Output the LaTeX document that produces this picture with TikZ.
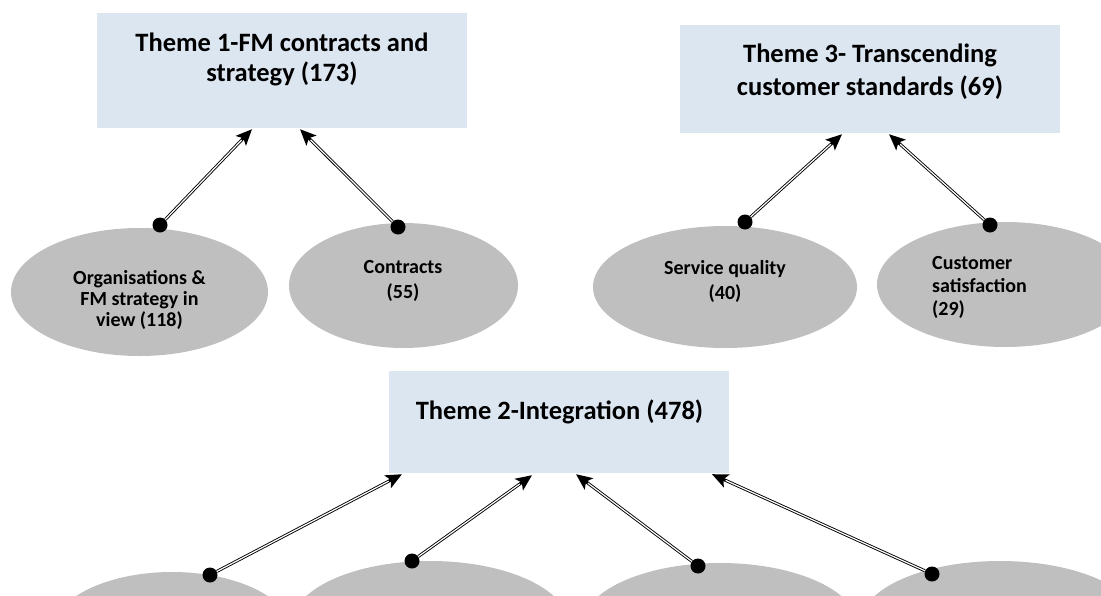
\documentclass[tikz,border=0pt]{standalone}
\usepackage{fontspec}
\setmainfont{Carlito}
\usetikzlibrary{arrows.meta,shapes.geometric}

\definecolor{themefill}{HTML}{DCE6F1}
\definecolor{subfill}{HTML}{BFBFBF}

\begin{document}
\begin{tikzpicture}[x=1pt,y=-1pt,
  theme/.style={rectangle, fill=themefill, draw=none, inner sep=0pt},
  sub/.style={ellipse, fill=subfill, draw=none, inner sep=0pt},
  ttext/.style={font=\fontsize{26.5}{30}\selectfont\bfseries, align=center, inner sep=0pt, anchor=base},
  stext/.style={font=\fontsize{20}{22}\selectfont\bfseries, align=center, inner sep=0pt, anchor=base},
  dot/.style={circle, fill=black, minimum size=15pt, inner sep=0pt},
  % black outer stroke with a solid tip, then a white core to give a double line
  link/.style={draw=black, line width=3pt,
               -{Stealth[length=16pt,width=14pt,inset=3.5pt]},
               postaction={draw=white, line width=1.2pt, -, shorten >=15pt}}]

\useasboundingbox (0,0) rectangle (1101,595);
\clip (0,0) rectangle (1101,595);

% theme boxes (text nodes are placed by the baseline of their last line)
\node[theme, minimum width=370pt, minimum height=115pt] (t1) at (282,70.5) {};
\node[ttext] (t1txt) at (282,81.5) {Theme 1-FM contracts and\\strategy (173)};

\node[theme, minimum width=380pt, minimum height=108pt] (t3) at (870,79) {};
\node[ttext, font=\fontsize{26.5}{33}\selectfont\bfseries] (t3txt) at (870,95) {Theme 3- Transcending\\customer standards (69)};

\node[theme, minimum width=340pt, minimum height=102pt] (t2) at (559,422) {};
\node[ttext] (t2txt) at (559.5,419) {Theme 2-Integration (478)};

% sub-themes
\node[sub, minimum width=257pt, minimum height=128pt] (s1) at (139.5,292) {};
\node[stext, font=\fontsize{20}{21}\selectfont\bfseries] (s1txt) at (139.5,326) {Organisations \&\\FM strategy in\\view (118)};

\node[sub, minimum width=229pt, minimum height=125pt] (s2) at (403.5,285.5) {};
\node[stext, font=\fontsize{20}{25}\selectfont\bfseries] (s2txt) at (403,298) {Contracts\\(55)};

\node[sub, minimum width=264pt, minimum height=122pt] (s3) at (725,287) {};
\node[stext, font=\fontsize{20}{25}\selectfont\bfseries] (s3txt) at (725,299) {Service quality\\(40)};

\node[sub, minimum width=256pt, minimum height=125pt] (s4) at (1005,284.5) {};
\node[stext, align=left, anchor=base west, font=\fontsize{20}{23}\selectfont\bfseries] (s4txt) at (932,315) {Customer\\satisfaction\\(29)};

\node[sub, minimum width=244pt, minimum height=126pt] (s5) at (172,635) {};
\node[sub, minimum width=276pt, minimum height=126pt] (s6) at (430,624) {};
\node[sub, minimum width=276pt, minimum height=126pt] (s7) at (720,626) {};
\node[sub, minimum width=280pt, minimum height=126pt] (s8) at (1000,624) {};

% connector tails
\node[dot] (d1) at (160,225) {};
\node[dot] (d2) at (398,227) {};
\node[dot] (d3) at (745,222) {};
\node[dot] (d4) at (990,225) {};
\node[dot] (d5) at (210,575) {};
\node[dot] (d6) at (412,561) {};
\node[dot] (d7) at (698,566) {};
\node[dot] (d8) at (932,574) {};

% connectors
\draw[link] (d1) -- ([xshift=-30pt,yshift=-1pt]t1.south);
\draw[link] (d2) -- ([xshift=18pt,yshift=-1pt]t1.south);
\draw[link] (d3) -- ([xshift=-28pt,yshift=-1pt]t3.south);
\draw[link] (d4) -- ([xshift=19pt,yshift=-1pt]t3.south);
\draw[link] (d5) -- ([xshift=-157pt,yshift=-1pt]t2.south);
\draw[link] (d6) -- ([xshift=-27pt,yshift=-2pt]t2.south);
\draw[link] (d7) -- ([xshift=17pt,yshift=-1pt]t2.south);
\draw[link] (d8) -- ([xshift=153pt,yshift=-1pt]t2.south);
\end{tikzpicture}
\end{document}
